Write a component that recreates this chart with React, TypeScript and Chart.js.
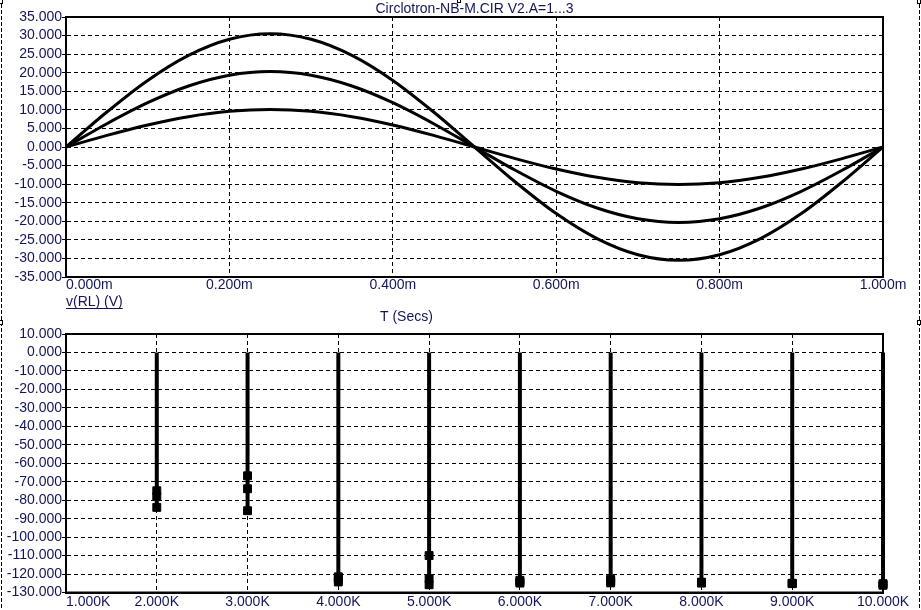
import React, { useEffect, useRef } from 'react';
import { Chart, registerables } from 'chart.js';
Chart.register(...registerables);

const chartTitle = 'Circlotron-NB-M.CIR V2.A=1...3';
const topYLabel = 'v(RL) (V)';
const topXTitle = 'T (Secs)';

// Top plot: transient, time in ms
const timeMs = [0, 0.05, 0.1, 0.15, 0.2, 0.25, 0.3, 0.35, 0.4, 0.45, 0.5, 0.55, 0.6, 0.65, 0.7, 0.75, 0.8, 0.85, 0.9, 0.95, 1.0];
const vRL_A1 = [0, 3.12, 5.94, 8.17, 9.61, 10.1, 9.61, 8.17, 5.94, 3.12, 0, -3.12, -5.94, -8.17, -9.61, -10.1, -9.61, -8.17, -5.94, -3.12, 0];
const vRL_A2 = [0, 6.27, 11.93, 16.42, 19.31, 20.3, 19.31, 16.42, 11.93, 6.27, 0, -6.27, -11.93, -16.42, -19.31, -20.3, -19.31, -16.42, -11.93, -6.27, 0];
const vRL_A3 = [0, 9.42, 17.93, 24.67, 29.01, 30.5, 29.01, 24.67, 17.93, 9.42, 0, -9.42, -17.93, -24.67, -29.01, -30.5, -29.01, -24.67, -17.93, -9.42, 0];
const topXTicks = [0, 0.2, 0.4, 0.6, 0.8, 1.0];
const topXLabels = ['0.000m', '0.200m', '0.400m', '0.600m', '0.800m', '1.000m'];

// Bottom plot: harmonics in K (Hz)
const freqK = [2, 3, 4, 5, 6, 7, 8, 9, 10];
const mag_A1 = [-74.9, -66.8, -121.5, -110.0, -123.4, -122.8, -124.4, -125.0, -125.2];
const mag_A2 = [-78.1, -73.8, -122.8, -122.4, -124.2, -123.8, -124.6, -125.1, -125.7];
const mag_A3 = [-83.9, -85.7, -124.3, -125.8, -124.9, -124.8, -124.9, -125.2, -126.1];
const botXTicks = [1, 2, 3, 4, 5, 6, 7, 8, 9, 10];
const botXLabels = ['1.000K', '2.000K', '3.000K', '4.000K', '5.000K', '6.000K', '7.000K', '8.000K', '9.000K', '10.000K'];

const FONT = '"Liberation Sans", Arial, sans-serif';
const NAVY = '#14145a';

function yScale(min: number, max: number, step: number) {
  return {
    type: 'linear' as const,
    min,
    max,
    afterFit: (s: any) => { s.width = 66; },
    ticks: {
      stepSize: step,
      autoSkip: false,
      padding: 0,
      color: NAVY,
      font: { family: FONT, size: 14 },
      callback: (v: any) => Number(v).toFixed(3),
    },
    grid: { color: '#000', lineWidth: 1, tickLength: 4, drawTicks: true },
    border: { display: true, color: '#000', width: 2, dash: [4, 3] },
  };
}

function xScale(min: number, max: number, step: number, h: number) {
  return {
    type: 'linear' as const,
    min,
    max,
    afterFit: (s: any) => { s.height = h; },
    ticks: { stepSize: step, display: false },
    grid: { color: '#000', lineWidth: 1, drawTicks: false },
    border: { display: true, color: '#000', width: 2, dash: [4, 3] },
  };
}

function labelPlugin(xTicks: number[], xLabels: string[], labelY: number, extra?: (ctx: CanvasRenderingContext2D, chart: any) => void) {
  return {
    id: 'labels',
    afterDraw(chart: any) {
      const { ctx, chartArea, scales } = chart;
      ctx.save();
      ctx.setLineDash([]);
      ctx.strokeStyle = '#000';
      ctx.lineWidth = 2;
      ctx.strokeRect(chartArea.left, chartArea.top, chartArea.right - chartArea.left, chartArea.bottom - chartArea.top);
      ctx.font = `14px ${FONT}`;
      ctx.fillStyle = NAVY;
      ctx.textBaseline = 'middle';
      xTicks.forEach((v, i) => {
        const x = scales.x.getPixelForValue(v);
        ctx.textAlign = i === 0 ? 'left' : 'center';
        ctx.fillText(xLabels[i], i === 0 ? chartArea.left : x, labelY);
      });
      if (extra) extra(ctx, chart);
      ctx.restore();
    },
  };
}

export default function App() {
  const topRef = useRef<HTMLCanvasElement>(null);
  const botRef = useRef<HTMLCanvasElement>(null);
  const frameRef = useRef<HTMLCanvasElement>(null);

  useEffect(() => {
    const curve = (arr: number[]) => ({
      data: timeMs.map((t, i) => ({ x: t, y: arr[i] })),
      borderColor: '#000',
      borderWidth: 3,
      pointRadius: 0,
      cubicInterpolationMode: 'monotone' as const,
      fill: false,
    });

    const top = new Chart(topRef.current!, {
      type: 'line',
      data: { datasets: [curve(vRL_A1), curve(vRL_A2), curve(vRL_A3)] },
      options: {
        responsive: false,
        animation: false,
        layout: { padding: { left: 0, right: 38, top: 17, bottom: 0 } },
        plugins: { legend: { display: false }, tooltip: { enabled: false }, title: { display: false } },
        scales: { x: xScale(0, 1, 0.2, 48), y: yScale(-35, 35, 5) },
      },
      plugins: [
        labelPlugin(topXTicks, topXLabels, 285, (ctx, chart) => {
          const ca = chart.chartArea;
          ctx.textAlign = 'center';
          ctx.fillText(chartTitle, (ca.left + ca.right) / 2, 9);
          ctx.textAlign = 'left';
          ctx.fillText(topYLabel, ca.left, 302);
          const w = ctx.measureText(topYLabel).width;
          ctx.strokeStyle = NAVY;
          ctx.lineWidth = 1;
          ctx.beginPath();
          ctx.moveTo(ca.left, 308.5);
          ctx.lineTo(ca.left + w, 308.5);
          ctx.stroke();
          ctx.fillText(topXTitle, 380, 317);
        }),
      ],
    } as any);

    const stemPts: any[] = [];
    freqK.forEach((f, i) => {
      const lo = Math.min(mag_A1[i], mag_A2[i], mag_A3[i]);
      stemPts.push({ x: f, y: 0 }, { x: f, y: lo - 0.8 }, { x: f, y: null });
    });
    const markers = (arr: number[]) => ({
      data: freqK.map((f, i) => ({ x: f, y: arr[i] })),
      showLine: false,
      pointStyle: 'rect',
      pointRadius: 5.6,
      borderWidth: 1,
      borderColor: '#000',
      backgroundColor: '#000',
      clip: false,
    });

    const bot = new Chart(botRef.current!, {
      type: 'line',
      data: {
        datasets: [
          markers(mag_A1),
          markers(mag_A2),
          markers(mag_A3),
          { data: stemPts, borderColor: '#000', borderWidth: 4, pointRadius: 0, spanGaps: false, clip: false, borderCapStyle: 'butt' },
        ],
      },
      options: {
        responsive: false,
        animation: false,
        layout: { padding: { left: 0, right: 38, top: 9, bottom: 0 } },
        plugins: { legend: { display: false }, tooltip: { enabled: false } },
        scales: { x: xScale(1, 10, 1, 17.5), y: yScale(-130, 10, 10) },
      },
      plugins: [labelPlugin(botXTicks, botXLabels, 277)],
    } as any);

    const fc = frameRef.current!;
    const c = fc.getContext('2d')!;
    c.clearRect(0, 0, fc.width, fc.height);
    c.strokeStyle = '#000';
    c.lineWidth = 1;
    c.setLineDash([4, 2]);
    c.beginPath();
    c.moveTo(1.5, 4);
    c.lineTo(1.5, 610);
    c.moveTo(919.5, 4);
    c.lineTo(919.5, 610);
    c.stroke();
    c.setLineDash([]);
    const handle = (x: number, y: number) => {
      c.fillStyle = '#fff';
      c.fillRect(x, y, 4, 5);
      c.strokeRect(x + 0.5, y + 0.5, 3, 4);
    };
    handle(-1, -1);
    handle(457, -2);
    handle(917, -1);
    handle(-1, 320);
    handle(917, 320);

    return () => {
      top.destroy();
      bot.destroy();
    };
  }, []);

  return (
    <div style={{ position: 'absolute', left: 0, top: 0, width: 921, height: 610, background: '#fff', overflow: 'hidden' }}>
      <canvas ref={topRef} width={921} height={325} style={{ position: 'absolute', left: 0, top: 0, width: 921, height: 325 }} />
      <canvas ref={botRef} width={921} height={285} style={{ position: 'absolute', left: 0, top: 325, width: 921, height: 285 }} />
      <canvas ref={frameRef} width={921} height={610} style={{ position: 'absolute', left: 0, top: 0, width: 921, height: 610, pointerEvents: 'none' }} />
    </div>
  );
}
